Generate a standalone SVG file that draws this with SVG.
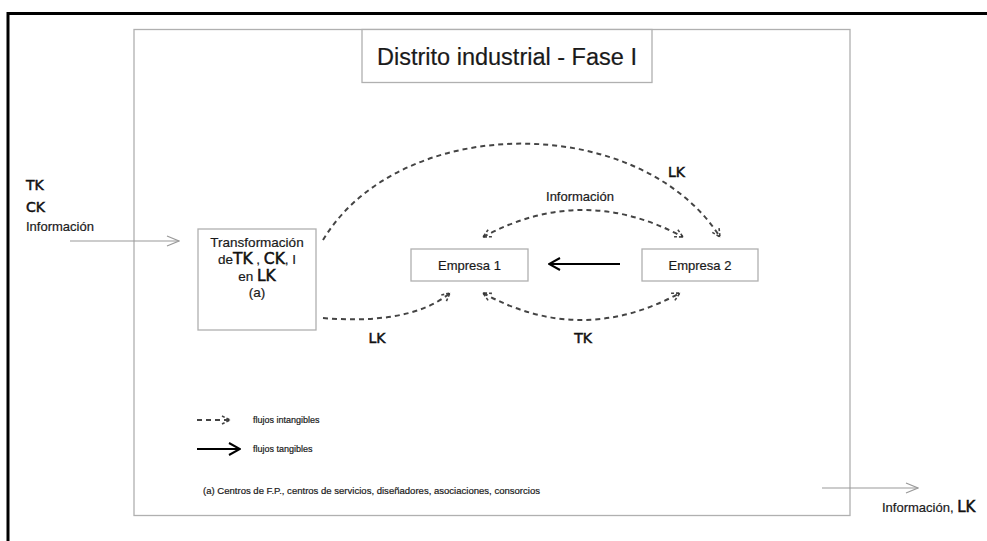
<svg xmlns="http://www.w3.org/2000/svg" width="987" height="541" viewBox="0 0 987 541">
<defs>
<style>
.box{fill:#fff;stroke:#b0b0b0;stroke-width:1.3}
.t{font-family:"Liberation Sans",Arial,sans-serif;fill:#1a1a1a;stroke:#1a1a1a;stroke-width:0.2}
.k{font-family:"DejaVu Sans",Verdana,sans-serif;fill:#111;stroke:#111;stroke-width:0.5}
.dash{fill:none;stroke:#444;stroke-width:2;stroke-dasharray:5 4}
.thin{fill:none;stroke:#999;stroke-width:1.2}
.solid{fill:none;stroke:#000;stroke-width:2}
</style>
<marker id="dh" viewBox="0 0 10 10" refX="9" refY="5" markerWidth="10" markerHeight="10" markerUnits="userSpaceOnUse" orient="auto-start-reverse">
<path d="M1,1 L9,5 L1,9" fill="none" stroke="#444" stroke-width="1.6" stroke-dasharray="3 2"/>
<path d="M7,3.8 L9.5,5 L7,6.2Z" fill="#333"/>
</marker>
<marker id="sh" viewBox="0 0 14 14" refX="13" refY="7" markerWidth="14" markerHeight="14" markerUnits="userSpaceOnUse" orient="auto">
<path d="M2,1 L13,7 L2,13" fill="none" stroke="#000" stroke-width="2"/>
</marker>
<marker id="th" viewBox="0 0 14 14" refX="13" refY="7" markerWidth="14" markerHeight="14" markerUnits="userSpaceOnUse" orient="auto">
<path d="M1,2 L13,7 L1,12" fill="none" stroke="#999" stroke-width="1.2"/>
</marker>
</defs>
<rect width="987" height="541" fill="#fff"/>
<path d="M8,545 V13.5 H992" fill="none" stroke="#000" stroke-width="3"/>
<rect x="134" y="29.5" width="716" height="486" class="box"/>

<g id="title">
<rect x="362" y="29.5" width="290" height="53" class="box"/>
<text x="507" y="65" class="t" font-size="23.5" text-anchor="middle">Distrito industrial - Fase I</text>
</g>

<g id="inputs">
<text x="26" y="190" class="k" font-size="14">TK</text>
<text x="26" y="212" class="k" font-size="14">CK</text>
<text x="26" y="231" class="t" font-size="13">Información</text>
</g>

<g id="transformacion">
<rect x="198" y="229" width="118" height="101" class="box"/>
<text x="257" y="247" class="t" font-size="13.5" text-anchor="middle">Transformación</text>
<text x="257" y="264" text-anchor="middle"><tspan class="t" font-size="13.5">de</tspan><tspan class="k" font-size="15.5">TK</tspan><tspan class="t" font-size="13.5"> , </tspan><tspan class="k" font-size="15.5">CK</tspan><tspan class="t" font-size="13.5">, I</tspan></text>
<text x="257" y="281" text-anchor="middle"><tspan class="t" font-size="13.5">en </tspan><tspan class="k" font-size="15.5">LK</tspan></text>
<text x="257" y="297" class="t" font-size="13.5" text-anchor="middle">(a)</text>
</g>

<g id="empresa1">
<rect x="411" y="249" width="117" height="32" class="box"/>
<text x="469.5" y="270" class="t" font-size="13" text-anchor="middle">Empresa 1</text>
</g>

<g id="empresa2">
<rect x="642" y="249" width="116" height="32" class="box"/>
<text x="700" y="270" class="t" font-size="13" text-anchor="middle">Empresa 2</text>
</g>

<g id="connectors">
<path d="M70,241 H179" class="thin" marker-end="url(#th)"/>
<path d="M323,240 C400,112 640,112 720,237" class="dash" marker-end="url(#dh)"/>
<path d="M483,237 Q583,183 683,237" class="dash" marker-start="url(#dh)" marker-end="url(#dh)"/>
<path d="M323,318 C370,322 420,318 450,293" class="dash" marker-end="url(#dh)"/>
<path d="M483,293 Q581,347 680,293" class="dash" marker-start="url(#dh)" marker-end="url(#dh)"/>
<path d="M620,264 H549" class="solid" marker-end="url(#sh)"/>
<path d="M822,488 H918" class="thin" marker-end="url(#th)"/>
</g>

<g id="labels">
<text x="668" y="177" class="k" font-size="14">LK</text>
<text x="580" y="201" class="t" font-size="13" text-anchor="middle">Información</text>
<text x="377" y="343" class="k" font-size="14" text-anchor="middle">LK</text>
<text x="583" y="343" class="k" font-size="14" text-anchor="middle">TK</text>
<text x="882" y="512" class="t" font-size="13">Información, <tspan class="k" font-size="15">LK</tspan></text>
</g>

<g id="legend">
<path d="M197,420 H230" class="dash" stroke-width="1.6" stroke-dasharray="4 4" marker-end="url(#dh)"/>
<text x="253" y="423" class="t" font-size="9">flujos intangibles</text>
<path d="M197,449 H240" class="solid" marker-end="url(#sh)"/>
<text x="253" y="452" class="t" font-size="9">flujos tangibles</text>
<text x="203" y="494" class="t" font-size="9.3" textLength="337" lengthAdjust="spacingAndGlyphs">(a) Centros de F.P., centros de servicios, diseñadores, asociaciones, consorcios</text>
</g>
</svg>
